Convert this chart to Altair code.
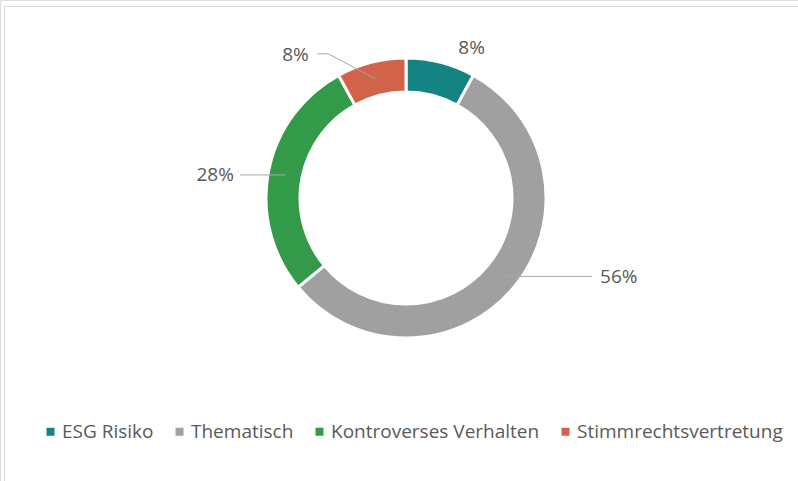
import math
import altair as alt
import pandas as pd

# ---- data ----
categories = ["ESG Risiko", "Thematisch", "Kontroverses Verhalten", "Stimmrechtsvertretung"]
values = [8, 56, 28, 8]
labels = ["8%", "56%", "28%", "8%"]
colors = ["#138483", "#A0A0A0", "#339A4A", "#D0634A"]

# ---- layout (pixels) ----
W, H = 798, 481
CX, CY = 406, 198
R_OUT, R_IN, R_ANCHOR = 140, 106, 123
FONT = "Open Sans"
# leader geometry per label: (dx, dy) points relative to the anchor on the ring,
# and the label offset from the line end
leaders = {
    "ESG Risiko": {"pts": [], "label": (35, -31)},
    "Thematisch": {"pts": [(91, 0)], "label": (27, 1)},
    "Kontroverses Verhalten": {"pts": [(-45, 0)], "label": (-25, 0)},
    "Stimmrechtsvertretung": {"pts": [(-47, -25), (-58, -25)], "label": (-22, 1)},
}

total = sum(values)
df = pd.DataFrame({"cat": categories, "val": values, "lab": labels, "idx": range(len(values))})

line_rows, text_rows = [], []
cum = 0
for c, v, l in zip(categories, values, labels):
    mid = (cum + v / 2) / total * 2 * math.pi
    cum += v
    ax = CX + R_ANCHOR * math.sin(mid)
    ay = CY - R_ANCHOR * math.cos(mid)
    g = leaders[c]
    pts = [(ax, ay)] + [(ax + dx, ay + dy) for dx, dy in g["pts"]]
    if len(pts) > 1:
        for i, (px, py) in enumerate(pts):
            line_rows.append({"cat": c, "o": i, "x": px, "y": py})
    ex, ey = pts[-1]
    text_rows.append({"cat": c, "lab": l, "x": ex + g["label"][0], "y": ey + g["label"][1]})

lines = pd.DataFrame(line_rows)
texts = pd.DataFrame(text_rows)

xs = alt.Scale(domain=[0, W], range=[0, W], nice=False, zero=False)
ys = alt.Scale(domain=[0, H], range=[0, H], nice=False, zero=False)

arc = alt.Chart(df).mark_arc(
    innerRadius=R_IN, outerRadius=R_OUT, stroke="white", strokeWidth=3
).encode(
    theta=alt.Theta("val:Q", stack=True),
    order=alt.Order("idx:O"),
    color=alt.Color(
        "cat:N",
        scale=alt.Scale(domain=categories, range=colors),
        legend=alt.Legend(
            title=None, orient="none", direction="horizontal",
            legendX=41, legendY=422,
            symbolType="square", symbolSize=64, symbolStrokeWidth=0,
            labelFont=FONT, labelFontSize=19, labelColor="#595959",
            labelLimit=400, columnPadding=16, labelOffset=2,
        ),
    ),
    x=alt.value(CX),
    y=alt.value(CY),
)

leader = alt.Chart(lines).mark_line(color="#A6A6A6", strokeWidth=1).encode(
    x=alt.X("x:Q", scale=xs, axis=None),
    y=alt.Y("y:Q", scale=ys, axis=None),
    detail="cat:N",
    order="o:Q",
)

txt = alt.Chart(texts).mark_text(
    font=FONT, fontSize=19, color="#595959", align="center", baseline="middle"
).encode(
    x=alt.X("x:Q", scale=xs, axis=None),
    y=alt.Y("y:Q", scale=ys, axis=None),
    text="lab:N",
)

frame_top = alt.Chart(df).mark_rule(color="#D9D9D9", strokeWidth=1).encode(
    x=alt.value(4), x2=alt.value(W), y=alt.value(6.5)
)
frame_left = alt.Chart(df).mark_rule(color="#D9D9D9", strokeWidth=1).encode(
    x=alt.value(4.5), y=alt.value(6), y2=alt.value(H)
)

chart = alt.layer(frame_top, frame_left, arc, leader, txt).properties(
    width=W, height=H, padding=0, autosize=alt.AutoSizeParams(type="none")
).configure_view(stroke=None).configure(background="white")

chart.save("out.html", embed_options={"renderer": "svg", "actions": False})
